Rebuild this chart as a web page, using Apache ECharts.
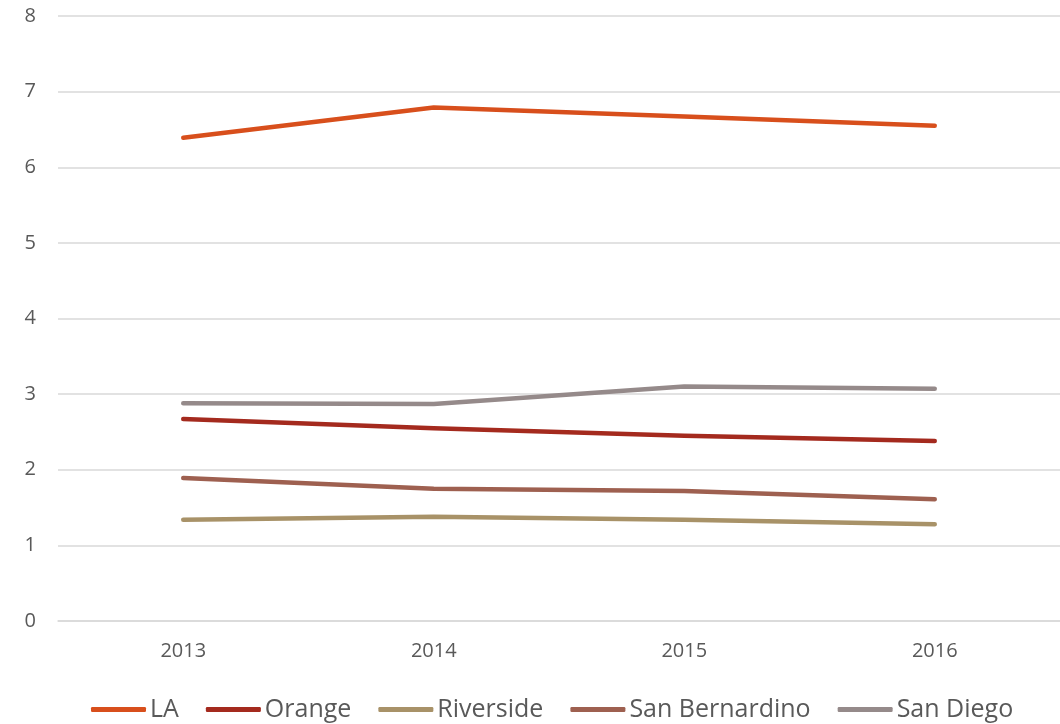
<!DOCTYPE html>
<html><head><meta charset="utf-8">
<script src="https://cdn.jsdelivr.net/npm/echarts@6/dist/echarts.min.js"></script>
<style>html,body{margin:0;padding:0;background:#fff}#c{width:1060px;height:724px}</style>
</head><body><div id="c"></div>
<script>
var categories = ['2013', '2014', '2015', '2016'];
var LA = [6.39, 6.79, 6.67, 6.55];
var Orange = [2.67, 2.55, 2.45, 2.38];
var Riverside = [1.34, 1.38, 1.34, 1.28];
var SanBernardino = [1.89, 1.75, 1.72, 1.61];
var SanDiego = [2.88, 2.87, 3.10, 3.07];
var seriesNames = ['LA', 'Orange', 'Riverside', 'San Bernardino', 'San Diego'];
var seriesData = [LA, Orange, Riverside, SanBernardino, SanDiego];
var colors = ['#D84F1C', '#A42A1E', '#A89268', '#9E6050', '#958A8A'];

var chart = echarts.init(document.getElementById('c'));
chart.setOption({
  animation: false,
  color: colors,
  grid: {left: 58, right: 0, top: 16, bottom: 103, containLabel: false},
  legend: {
    bottom: -3, left: 86, itemWidth: 55, itemHeight: 5, itemGap: 27,
    icon: 'roundRect',
    textStyle: {fontFamily: 'Open Sans', fontSize: 25, color: '#595959', padding: [0,0,0,-1]},
    data: seriesNames
  },
  xAxis: {
    type: 'category', data: categories, boundaryGap: true,
    axisLine: {lineStyle: {color: '#d9d9d9', width: 1.5}},
    axisTick: {show: false},
    axisLabel: {fontFamily: 'Open Sans', fontSize: 20, color: '#595959', margin: 20}
  },
  yAxis: {
    type: 'value', min: 0, max: 8, interval: 1,
    axisLine: {show: false}, axisTick: {show: false},
    splitLine: {lineStyle: {color: '#d9d9d9', width: 1.5}},
    axisLabel: {fontFamily: 'Open Sans', fontSize: 20, color: '#595959', margin: 22}
  },
  series: seriesData.map(function (d, i) {
    return {
      name: seriesNames[i], type: 'line', data: d, symbol: 'none',
      lineStyle: {width: 4.5, cap: 'round', join: 'round', color: colors[i]},
      itemStyle: {color: colors[i]}
    };
  })
});
</script></body></html>
